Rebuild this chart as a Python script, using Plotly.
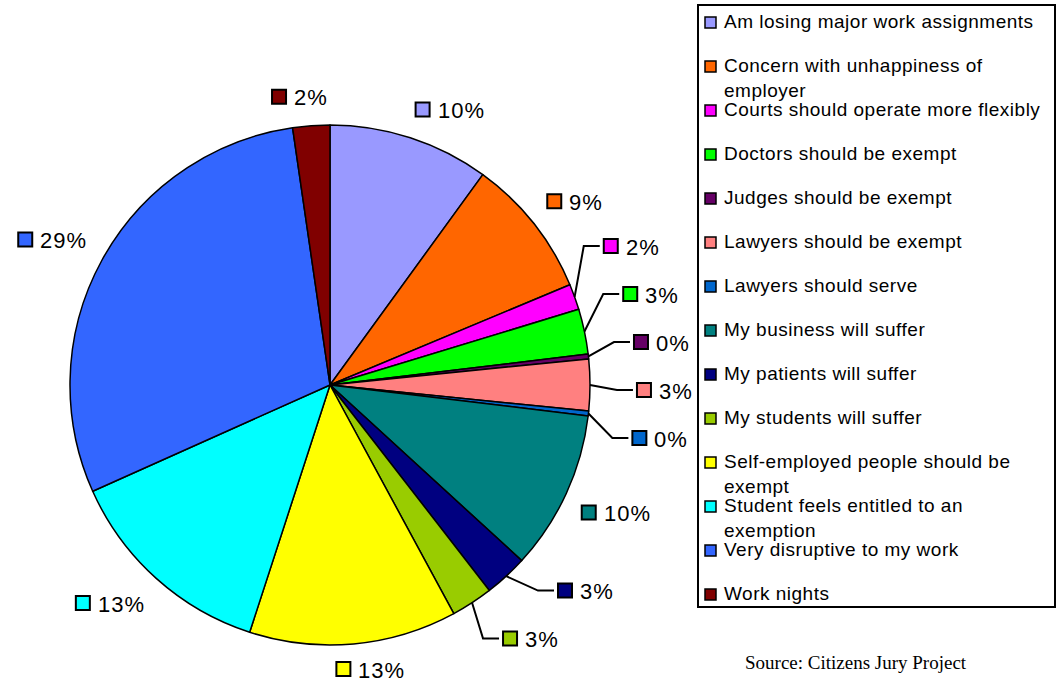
import math
import plotly.graph_objects as go

# Survey responses (share of respondents, %), clockwise from 12 o'clock
labels = [
    "Am losing major work assignments",
    "Concern with unhappiness of<br>employer",
    "Courts should operate more flexibly",
    "Doctors should be exempt",
    "Judges should be exempt",
    "Lawyers should be exempt",
    "Lawyers should serve",
    "My business will suffer",
    "My patients will suffer",
    "My students will suffer",
    "Self-employed people should be<br>exempt",
    "Student feels entitled to an<br>exemption",
    "Very disruptive to my work",
    "Work nights",
]
values = [10.0, 8.7, 1.6, 2.8, 0.3, 3.2, 0.3, 9.9, 2.7, 2.6, 12.9, 13.3, 29.4, 2.3]
colors = [
    "#9999FF", "#FF6600", "#FF00FF", "#00FF00", "#660066", "#FF8080", "#0066CC",
    "#008080", "#000080", "#99CC00", "#FFFF00", "#00FFFF", "#3366FF", "#800000",
]
source_note = "Source: Citizens Jury Project"

W, H = 1060, 683
SANS = "Liberation Sans, Arial, sans-serif"
SERIF = "Liberation Serif, Times New Roman, serif"

# Pie placement in pixels
CX, CY, R = 330, 385, 260


def px(x):
    return x / W


def py(y):
    return 1 - y / H


def clamp(v):
    return max(-1.0, min(1.0, v))


def spaced(txt, ls):
    return "<br>".join(f"<span style='letter-spacing:{ls}px'>{part}</span>"
                       for part in txt.split("<br>"))


fig = go.Figure()
fig.add_trace(go.Pie(
    labels=labels,
    values=values,
    sort=False,
    direction="clockwise",
    rotation=0,
    marker=dict(colors=colors, line=dict(color="#000000", width=1.5)),
    textinfo="none",
    showlegend=False,
    hoverinfo="label+percent",
    domain=dict(x=[px(CX - R), px(CX + R)], y=[py(CY + R), py(CY - R)]),
    automargin=False,
))

shapes, annotations = [], []

# ---- outside percentage labels with colour keys ----
total = sum(values)
LAB_FS, LAB_LS = 22, 1.0
SQ, SQ_GAP, BOX_H = 14, 8, 24
DELTA, R2 = 17, 307
STEP, COLLIDE = 48, 40   # spacing inside a spread group / overlap threshold

items = []
acc = 0.0
for v, col in zip(values, colors):
    mid = (acc + v / 2) / total * 2 * math.pi
    acc += v
    txt = f"{round(v / total * 100)}%"
    tw = LAB_FS * (0.556 * (len(txt) - 1) + 0.889) + LAB_LS * len(txt)
    w = SQ + SQ_GAP + tw
    s, c = math.sin(mid), math.cos(mid)
    # anchor the box corner nearest the pie on the slice's mid-angle ray
    ax, ay = CX + (R + DELTA) * s, CY - (R + DELTA) * c
    bx = ax + (w / 2) * clamp(s / 0.2)
    by = ay - (BOX_H / 2) * clamp(c / 0.3)
    by = min(by, H - BOX_H / 2 - 2)
    items.append(dict(txt=txt, col=col, v=v, s=s, c=c, w=w,
                      left=bx - w / 2, y=by, ideal=by, lead=False))

# spread crowded labels on the right-hand side vertically;
# each group is centred on the value-weighted mean of its ideal positions
right = [it for it in items if it["s"] > 0.3]
clusters = [[it] for it in right]
changed = True
while changed:
    changed = False
    for cl in clusters:
        wsum = sum(i["v"] for i in cl)
        mean = sum(i["ideal"] * i["v"] for i in cl) / wsum
        for j, it in enumerate(cl):
            it["y"] = mean + (j - (len(cl) - 1) / 2) * STEP
    for k in range(len(clusters) - 1):
        if clusters[k + 1][0]["y"] - clusters[k][-1]["y"] < COLLIDE:
            clusters[k] = clusters[k] + clusters[k + 1]
            del clusters[k + 1]
            changed = True
            break
for cl in clusters:
    if len(cl) > 1:
        for it in cl:
            dy = it["y"] - CY
            it["left"] = CX + math.sqrt(max(R2 ** 2 - dy ** 2, 0))
            it["lead"] = True

for it in items:
    left, y = it["left"], it["y"]
    if it["lead"]:
        ex, ey = CX + R * it["s"], CY - R * it["c"]
        shapes.append(dict(type="path", xref="paper", yref="paper",
                           path=f"M {px(ex)},{py(ey)} L {px(left - 20)},{py(y)} L {px(left - 4)},{py(y)}",
                           line=dict(color="#000000", width=2)))
    shapes.append(dict(type="rect", xref="paper", yref="paper",
                       x0=px(left), x1=px(left + SQ), y0=py(y + SQ / 2), y1=py(y - SQ / 2),
                       line=dict(color="#000000", width=2), fillcolor=it["col"]))
    annotations.append(dict(xref="paper", yref="paper", x=px(left + SQ + SQ_GAP - 2), y=py(y + 1),
                            xanchor="left", yanchor="middle", showarrow=False,
                            text=spaced(it["txt"], LAB_LS),
                            font=dict(family=SANS, size=LAB_FS, color="#000000")))

# ---- legend box ----
box_x0, box_x1, box_y0, box_y1 = 698, 1055, 5, 607
shapes.append(dict(type="rect", xref="paper", yref="paper",
                   x0=px(box_x0), x1=px(box_x1), y0=py(box_y1), y1=py(box_y0),
                   line=dict(color="#000000", width=2), fillcolor="rgba(0,0,0,0)"))
row0, row_gap = 22, 44
for i, (lab, col) in enumerate(zip(labels, colors)):
    yc = row0 + i * row_gap
    shapes.append(dict(type="rect", xref="paper", yref="paper",
                       x0=px(705), x1=px(716), y0=py(yc + 6), y1=py(yc - 5),
                       line=dict(color="#000000", width=1.5), fillcolor=col))
    annotations.append(dict(xref="paper", yref="paper", x=px(722), y=py(yc - 13),
                            xanchor="left", yanchor="top", align="left",
                            text=spaced(lab, 0.5), showarrow=False,
                            font=dict(family=SANS, size=19, color="#000000")))

annotations.append(dict(xref="paper", yref="paper", x=px(743), y=py(662),
                        xanchor="left", yanchor="middle", showarrow=False,
                        text=source_note,
                        font=dict(family=SERIF, size=19, color="#000000")))

fig.update_layout(
    width=W, height=H,
    margin=dict(l=0, r=0, t=0, b=0),
    paper_bgcolor="#FFFFFF",
    plot_bgcolor="#FFFFFF",
    shapes=shapes,
    annotations=annotations,
)

fig.write_html("out.html")
